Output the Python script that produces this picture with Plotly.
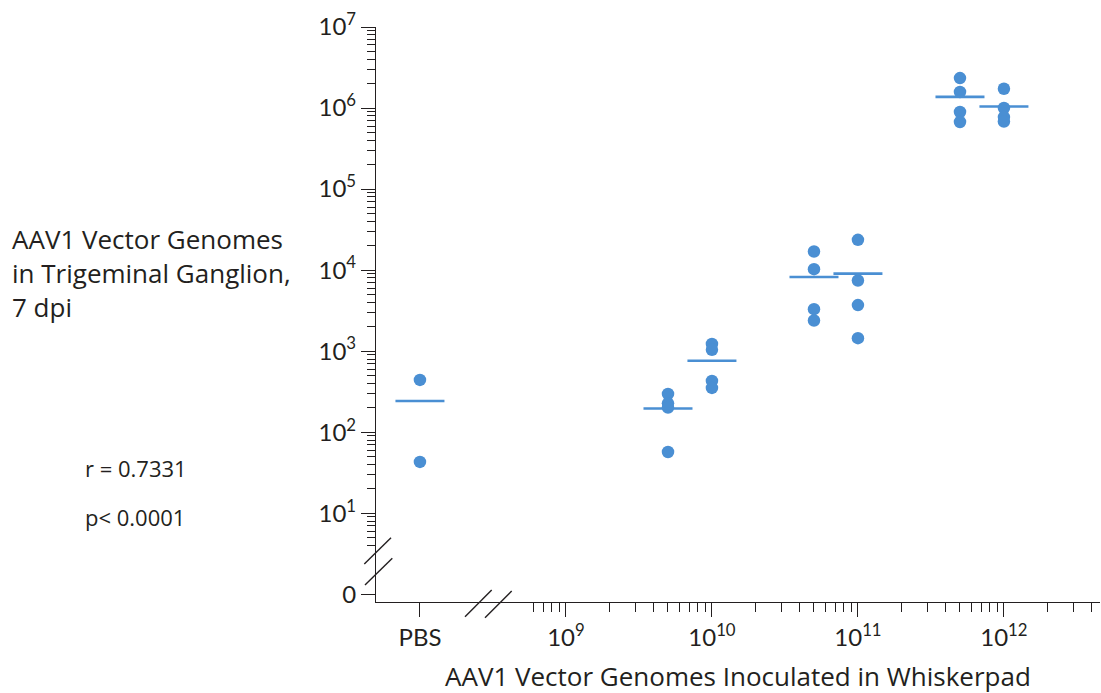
import numpy as np
import plotly.graph_objects as go

# ---------------- data ----------------
group_labels = ["PBS", "5e9", "1e10", "5e10", "1e11", "5e11", "1e12"]
group_doses = [1e8, 5e9, 1e10, 5e10, 1e11, 5e11, 1e12]   # PBS plotted at 10^8 (left of axis break)
vg_pbs = [442, 43]
vg_5e9 = [297, 227, 202, 57]
vg_1e10 = [1230, 1040, 430, 352]
vg_5e10 = [16980, 10280, 3300, 2390]
vg_1e11 = [23660, 7440, 3700, 1446]
vg_5e11 = [2344000, 1577000, 893000, 672000]
vg_1e12 = [1730000, 1000000, 774000, 683000]
group_values = [vg_pbs, vg_5e9, vg_1e10, vg_5e10, vg_1e11, vg_5e11, vg_1e12]

x_tick_vals = [1e8, 1e9, 1e10, 1e11, 1e12]
x_tick_text = ["PBS", "10<sup>9</sup>", "10<sup>10</sup>", "10<sup>11</sup>", "10<sup>12</sup>"]
x_minor_vals = [6e8, 7e8, 8e8, 9e8] + [m * 10.0 ** k for k in (9, 10, 11) for m in range(2, 10)] + [2e12, 3e12, 4e12]

y_tick_vals = [1, 1e1, 1e2, 1e3, 1e4, 1e5, 1e6, 1e7]
y_tick_text = ["0"] + ["10<sup>%d</sup>" % k for k in range(1, 8)]
y_minor_vals = [m * 1.0 for m in range(4, 10)] + [m * 10.0 ** k for k in range(1, 7) for m in range(2, 10)]

# ---------------- style ----------------
W, H = 1101, 693
L, R, T, B = 376, 1, 27, 91
PW, PH = W - L - R, H - T - B
INK = "#231f20"
BLUE = "#4a8fd3"
FONT = "Lato"
TFONT = "Open Sans"


def px(xp):
    return (xp - L) / PW


def py(yp):
    return (H - B - yp) / PH


xs, ys = [], []
for d, vals in zip(group_doses, group_values):
    xs += [d] * len(vals)
    ys += list(vals)
means = [float(np.mean(v)) for v in group_values]

fig = go.Figure()
fig.add_trace(go.Scatter(
    x=xs, y=ys, mode="markers",
    marker=dict(symbol="circle", size=12.5, color=BLUE, line=dict(width=0)),
    hoverinfo="x+y"))
fig.add_trace(go.Scatter(
    x=group_doses, y=means, mode="markers",
    marker=dict(symbol="line-ew", size=35, color=BLUE, line=dict(width=2.6, color=BLUE)),
    hoverinfo="y"))

axis_common = dict(
    type="log", showgrid=False, zeroline=False, showline=True,
    linecolor=INK, linewidth=1.3, ticks="outside", ticklen=14, tickwidth=1.3,
    tickcolor=INK, tickfont=dict(family=FONT, size=24, color=INK), tickmode="array",
)

fig.update_layout(
    width=W, height=H, autosize=False,
    margin=dict(l=L, r=R, t=T, b=B, pad=0),
    plot_bgcolor="white", paper_bgcolor="white",
    showlegend=False,
    font=dict(family=FONT, color=INK),
    xaxis=dict(axis_common, range=[7.699, 12.658], tickvals=x_tick_vals, ticktext=x_tick_text,
               minor=dict(tickmode="array", tickvals=x_minor_vals, ticks="outside",
                          ticklen=9, tickwidth=1.1, tickcolor=INK, showgrid=False)),
    yaxis=dict(axis_common, range=[-0.095, 7.0], tickvals=y_tick_vals, ticktext=y_tick_text,
               minor=dict(tickmode="array", tickvals=y_minor_vals, ticks="outside",
                          ticklen=8, tickwidth=1.1, tickcolor=INK, showgrid=False)),
)

# axis break marks
breaks = [
    ((364.3, 564.0), (391.0, 537.7)),
    ((365.0, 585.0), (392.3, 558.3)),
    ((465.0, 616.7), (491.7, 590.0)),
    ((485.0, 617.7), (511.7, 591.0)),
]
for (x0, y0), (x1, y1) in breaks:
    fig.add_shape(type="line", xref="paper", yref="paper",
                  x0=px(x0), y0=py(y0), x1=px(x1), y1=py(y1),
                  line=dict(color=INK, width=1.4))

# titles / annotations
ann = dict(xref="paper", yref="paper", showarrow=False, font=dict(family=TFONT, color=INK, size=26))
fig.add_annotation(ann, x=px(738), y=py(676), xanchor="center", yanchor="middle",
                   text="AAV1 Vector Genomes Inoculated in Whiskerpad")
fig.add_annotation(ann, x=px(10), y=py(273), xanchor="left", yanchor="middle", align="left",
                   text="AAV1 Vector Genomes<br>in Trigeminal Ganglion,<br>7 dpi")
ann_small = dict(ann, font=dict(family=TFONT, color=INK, size=22))
fig.add_annotation(ann_small, x=px(83), y=py(468), xanchor="left", yanchor="middle", text="r = 0.7331")
fig.add_annotation(ann_small, x=px(83), y=py(517), xanchor="left", yanchor="middle", text="p< 0.0001")

fig.write_html("out.html")
